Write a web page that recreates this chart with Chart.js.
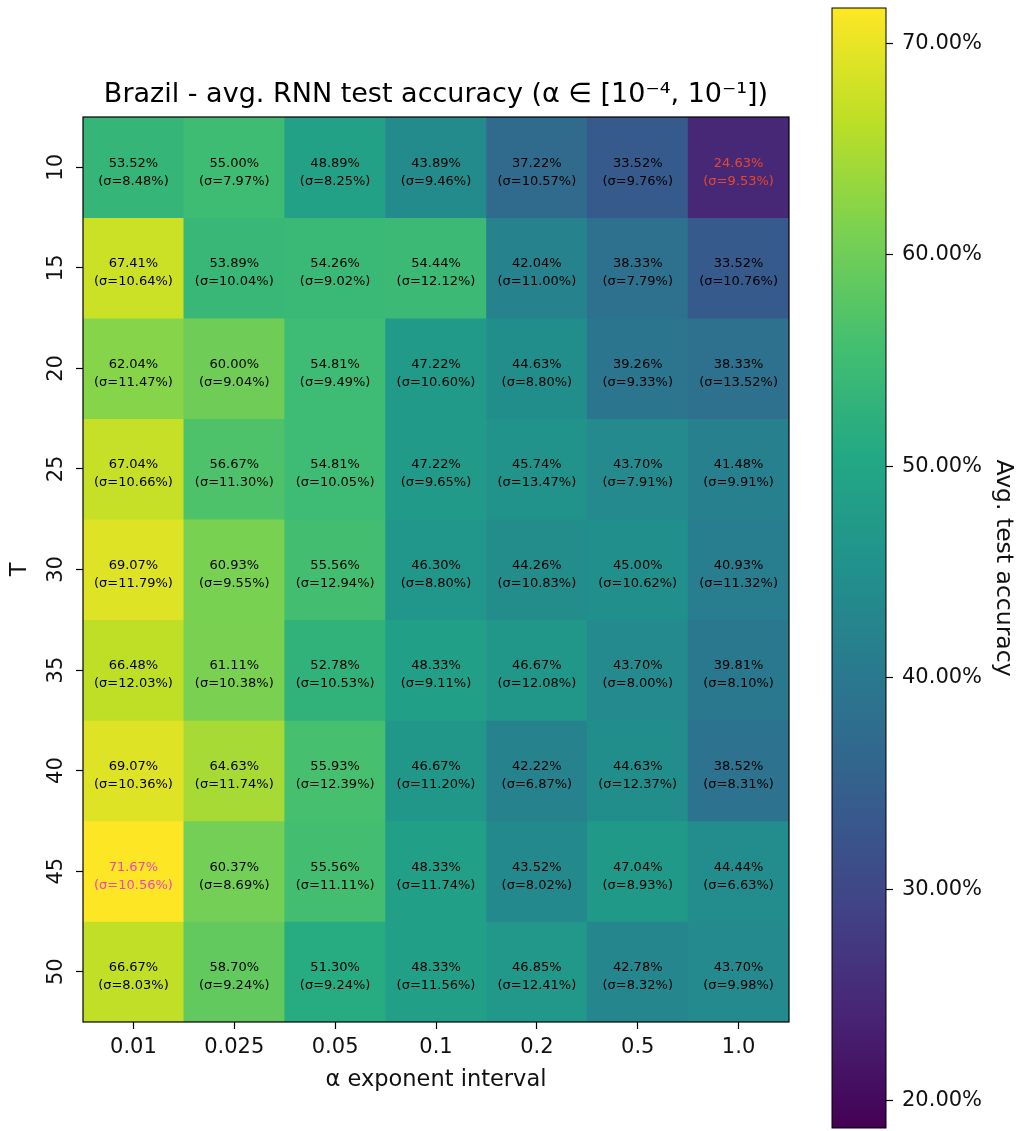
<!DOCTYPE html>
<html>
<head>
<meta charset="utf-8">
<script src="https://cdn.jsdelivr.net/npm/chart.js@4.4.1/dist/chart.umd.min.js"></script>
<style>
  html, body { margin: 0; padding: 0; background: #fff; }
  #wrap { position: relative; width: 1021px; height: 1131px; }
  #heat { position: absolute; left: 0; top: 0; }
  #cbar { position: absolute; left: 800px; top: 0; }
</style>
</head>
<body>
<div id="wrap">
  <canvas id="heat" width="830" height="1131"></canvas>
  <canvas id="cbar" width="221" height="1131"></canvas>
</div>
<script>
// ---- data ----
const tValues = [10, 15, 20, 25, 30, 35, 40, 45, 50];
const alphaLabels = ['0.01', '0.025', '0.05', '0.1', '0.2', '0.5', '1.0'];

// mean test accuracy (%), one row per T
const meanAcc = [
  [53.52, 55.00, 48.89, 43.89, 37.22, 33.52, 24.63],
  [67.41, 53.89, 54.26, 54.44, 42.04, 38.33, 33.52],
  [62.04, 60.00, 54.81, 47.22, 44.63, 39.26, 38.33],
  [67.04, 56.67, 54.81, 47.22, 45.74, 43.70, 41.48],
  [69.07, 60.93, 55.56, 46.30, 44.26, 45.00, 40.93],
  [66.48, 61.11, 52.78, 48.33, 46.67, 43.70, 39.81],
  [69.07, 64.63, 55.93, 46.67, 42.22, 44.63, 38.52],
  [71.67, 60.37, 55.56, 48.33, 43.52, 47.04, 44.44],
  [66.67, 58.70, 51.30, 48.33, 46.85, 42.78, 43.70]
];

// std dev of test accuracy (%)
const stdAcc = [
  [8.48, 7.97, 8.25, 9.46, 10.57, 9.76, 9.53],
  [10.64, 10.04, 9.02, 12.12, 11.00, 7.79, 10.76],
  [11.47, 9.04, 9.49, 10.60, 8.80, 9.33, 13.52],
  [10.66, 11.30, 10.05, 9.65, 13.47, 7.91, 9.91],
  [11.79, 9.55, 12.94, 8.80, 10.83, 10.62, 11.32],
  [12.03, 10.38, 10.53, 9.11, 12.08, 8.00, 8.10],
  [10.36, 11.74, 12.39, 11.20, 6.87, 12.37, 8.31],
  [10.56, 8.69, 11.11, 11.74, 8.02, 8.93, 6.63],
  [8.03, 9.24, 9.24, 11.56, 12.41, 8.32, 9.98]
];

const cbarMin = 18.7;
const cbarMax = 71.67;
const cbarTicks = [20, 30, 40, 50, 60, 70];

// ---- viridis ----
const viridisStops = [
  [68, 1, 84], [72, 36, 117], [65, 68, 135], [53, 95, 141], [42, 120, 142],
  [33, 145, 140], [34, 168, 132], [68, 191, 112], [122, 209, 81], [189, 223, 38], [253, 231, 37]
];
function viridis(t) {
  t = Math.min(1, Math.max(0, t));
  const p = t * (viridisStops.length - 1);
  const i = Math.min(viridisStops.length - 2, Math.floor(p));
  const f = p - i;
  const a = viridisStops[i], b = viridisStops[i + 1];
  const c = a.map((v, k) => Math.round(v + (b[k] - v) * f));
  return `rgb(${c[0]},${c[1]},${c[2]})`;
}
const colorFor = v => viridis((v - cbarMin) / (cbarMax - cbarMin));

Chart.defaults.font.family = "'DejaVu Sans', sans-serif";
Chart.defaults.color = '#111';

const allVals = meanAcc.flat();
const maxVal = Math.max(...allVals), minVal = Math.min(...allVals);

// frame round the plot area
const framePlugin = {
  id: 'frame',
  afterDraw(chart, args, opts) {
    const { ctx, chartArea: a } = chart;
    ctx.save();
    ctx.strokeStyle = '#000';
    ctx.lineWidth = opts.width || 1;
    ctx.strokeRect(a.left, a.top, a.right - a.left, a.bottom - a.top);
    ctx.restore();
  }
};

// mean / sigma text in every cell
const cellLabels = {
  id: 'cellLabels',
  afterDatasetsDraw(chart) {
    const ctx = chart.ctx;
    ctx.save();
    ctx.font = "13px 'DejaVu Sans'";
    ctx.textAlign = 'center';
    ctx.textBaseline = 'middle';
    chart.data.datasets.forEach((ds, r) => {
      chart.getDatasetMeta(r).data.forEach((bar, c) => {
        const v = meanAcc[r][c];
        const p = bar.getCenterPoint();
        ctx.fillStyle = v === maxVal ? '#f23fc6' : v === minVal ? '#e8482a' : '#000';
        ctx.fillText(v.toFixed(2) + '%', p.x, p.y - 4);
        ctx.fillText('(σ=' + stdAcc[r][c].toFixed(2) + '%)', p.x, p.y + 14);
      });
    });
    ctx.restore();
  }
};

// heatmap: one floating-bar dataset per T row
const rowSets = tValues.map((t, r) => ({
  label: 'T=' + t,
  data: alphaLabels.map(() => [r - 0.5, r + 0.5]),
  backgroundColor: meanAcc[r].map(colorFor),
  borderWidth: 0,
  barPercentage: 1,
  categoryPercentage: 1,
  grouped: false
}));

new Chart(document.getElementById('heat'), {
  type: 'bar',
  data: { labels: alphaLabels, datasets: rowSets },
  options: {
    responsive: false,
    animation: false,
    layout: { padding: { right: 41 } },
    plugins: {
      legend: { display: false },
      tooltip: { enabled: false },
      frame: { width: 1.2 },
      title: {
        display: true,
        fullSize: false,
        text: 'Brazil - avg. RNN test accuracy (α ∈ [10⁻⁴, 10⁻¹])',
        color: '#000',
        font: { size: 27, weight: 'normal' },
        padding: { top: 79, bottom: 5.6 }
      }
    },
    scales: {
      x: {
        type: 'category',
        grid: { offset: false, drawOnChartArea: false, tickLength: 7, tickColor: '#000', tickWidth: 1.2 },
        border: { display: false },
        ticks: { font: { size: 21 }, color: '#111', maxRotation: 0, padding: 6 },
        title: { display: true, text: 'α exponent interval', color: '#111', font: { size: 22.5 }, padding: { bottom: 37 } },
        afterFit(s) { s.height = 109; }
      },
      y: {
        type: 'linear',
        reverse: true,
        min: -0.5,
        max: 8.5,
        grid: { drawOnChartArea: false, tickLength: 7, tickColor: '#000', tickWidth: 1.2 },
        border: { display: false },
        afterBuildTicks(s) { s.ticks = tValues.map((t, i) => ({ value: i })); },
        ticks: {
          font: { size: 21 },
          color: '#111',
          minRotation: 90,
          maxRotation: 90,
          crossAlign: 'center',
          padding: 6,
          callback: v => tValues[v]
        },
        title: { display: true, text: 'T', color: '#111', font: { size: 22.5 }, padding: { top: 7 } },
        afterFit(s) { s.width = 83; }
      }
    }
  },
  plugins: [cellLabels, framePlugin]
});

// colour bar: a single floating bar filled with the viridis ramp
new Chart(document.getElementById('cbar'), {
  type: 'bar',
  data: {
    labels: [''],
    datasets: [{
      data: [[cbarMin, cbarMax]],
      borderWidth: 0,
      barPercentage: 1,
      categoryPercentage: 1,
      backgroundColor(ctx) {
        const chart = ctx.chart;
        if (!chart.chartArea) return '#888';
        const ys = chart.scales.y;
        const g = chart.ctx.createLinearGradient(0, ys.getPixelForValue(cbarMin), 0, ys.getPixelForValue(cbarMax));
        viridisStops.forEach((c, i) => g.addColorStop(i / (viridisStops.length - 1), `rgb(${c[0]},${c[1]},${c[2]})`));
        return g;
      }
    }]
  },
  options: {
    responsive: false,
    animation: false,
    layout: { autoPadding: false, padding: { left: 32, top: 8, bottom: 3 } },
    plugins: { legend: { display: false }, tooltip: { enabled: false }, frame: { width: 1 } },
    scales: {
      x: { display: false },
      y: {
        position: 'right',
        min: cbarMin,
        max: cbarMax,
        grid: { drawOnChartArea: false, tickLength: 7, tickColor: '#000', tickWidth: 1.2 },
        border: { display: false },
        afterBuildTicks(s) { s.ticks = cbarTicks.map(v => ({ value: v })); },
        ticks: { font: { size: 21 }, color: '#111', padding: 9, callback: v => v.toFixed(2) + '%' },
        title: { display: true, text: 'Avg. test accuracy', color: '#111', font: { size: 23.5 }, padding: { top: 4 } },
        afterFit(s) {
          s.width = 135;
          s.paddingTop = 0;
          s.paddingBottom = 0;
        }
      }
    }
  },
  plugins: [framePlugin]
});
</script>
</body>
</html>
